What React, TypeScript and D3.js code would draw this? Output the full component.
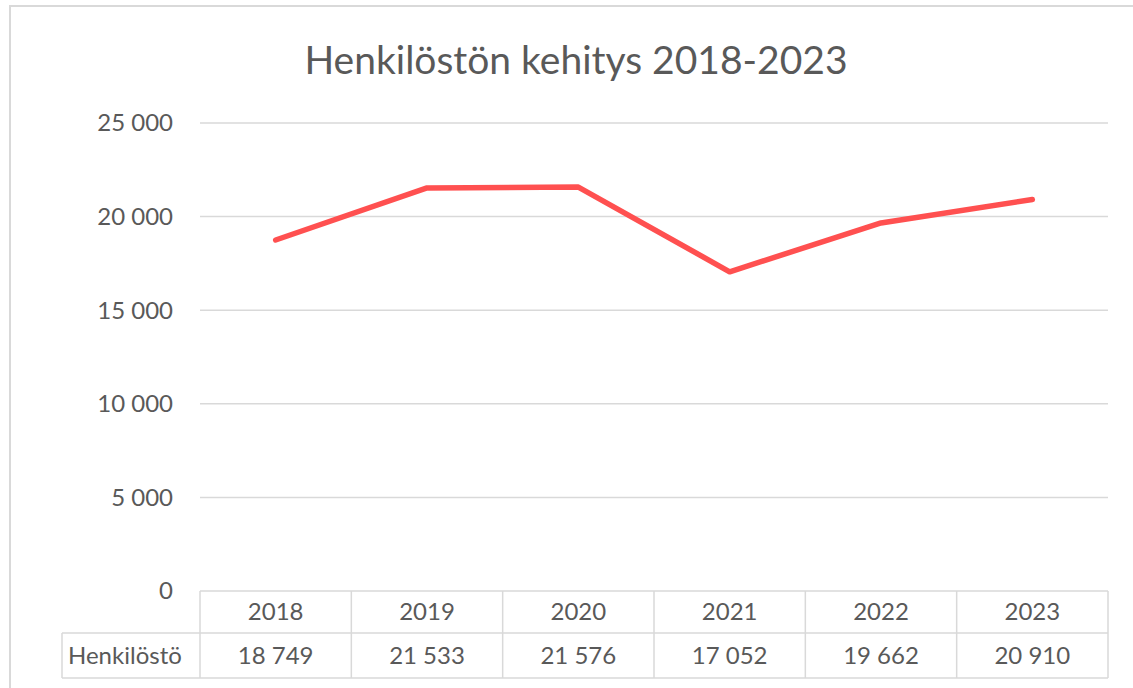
import React from "react";
import * as d3 from "d3";

const years = ["2018", "2019", "2020", "2021", "2022", "2023"];
const henkilosto = [18749, 21533, 21576, 17052, 19662, 20910];
const yTicks = [0, 5000, 10000, 15000, 20000, 25000];
const seriesName = "Henkilöstö";
const title = "Henkilöstön kehitys 2018-2023";

const W = 1133;
const H = 688;
const FONT = "Lato, 'Open Sans', sans-serif";
const TEXT = "#595959";
const GRID = "#d9d9d9";

const locale = d3.formatLocale({
  decimal: ",",
  thousands: "\u00a0",
  grouping: [3],
  currency: ["", "€"],
});
const fmt = locale.format(",d");

export default function App() {
  const plotLeft = 200;
  const plotRight = 1108;
  const y0 = 591;
  const yTop = 123;
  const x = d3.scaleBand<string>().domain(years).range([plotLeft, plotRight]);
  const y = d3.scaleLinear().domain([0, 25000]).range([y0, yTop]);
  const cx = (d: string) => (x(d) as number) + x.bandwidth() / 2;

  const data = years.map((yr, i) => ({ yr, v: henkilosto[i] }));
  const line = d3
    .line<{ yr: string; v: number }>()
    .x((d) => cx(d.yr))
    .y((d) => y(d.v));

  const row1Bottom = 633;
  const row2Bottom = 678;
  const labelLeft = 62;

  return (
    <svg
      width={W}
      height={H}
      style={{ position: "absolute", left: 0, top: 0, background: "#fff" }}
      fontFamily={FONT}
    >
      <rect x={0} y={0} width={W} height={H} fill="#fff" />
      {/* chart frame */}
      <path d={`M10,${H + 5} V6 H${W + 5}`} fill="none" stroke={GRID} strokeWidth={2} />

      <text x={576} y={74} textAnchor="middle" fontSize={39} fill={TEXT}>
        {title}
      </text>

      {/* gridlines */}
      {yTicks.map((t) => (
        <g key={t}>
          {t > 0 && (
            <line x1={plotLeft} x2={plotRight} y1={y(t)} y2={y(t)} stroke={GRID} strokeWidth={1.5} />
          )}
          <text x={173} y={y(t)} dy="0.35em" textAnchor="end" fontSize={24} fill={TEXT}>
            {fmt(t)}
          </text>
        </g>
      ))}

      {/* data table */}
      <g stroke={GRID} strokeWidth={1.5} fill="none">
        <line x1={plotLeft} x2={plotRight} y1={y0} y2={y0} />
        <line x1={labelLeft} x2={plotRight} y1={row1Bottom} y2={row1Bottom} />
        <line x1={labelLeft} x2={plotRight} y1={row2Bottom} y2={row2Bottom} />
        <line x1={labelLeft} x2={labelLeft} y1={row1Bottom} y2={row2Bottom} />
        {years.map((yr) => (
          <line key={yr} x1={x(yr)} x2={x(yr)} y1={y0} y2={row2Bottom} />
        ))}
        <line x1={plotRight} x2={plotRight} y1={y0} y2={row2Bottom} />
      </g>
      {years.map((yr, i) => (
        <g key={yr} fontSize={24} fill={TEXT} textAnchor="middle">
          <text x={cx(yr)} y={(y0 + row1Bottom) / 2} dy="0.35em">
            {yr}
          </text>
          <text x={cx(yr)} y={(row1Bottom + row2Bottom) / 2} dy="0.35em">
            {fmt(henkilosto[i])}
          </text>
        </g>
      ))}
      <text x={68} y={(row1Bottom + row2Bottom) / 2} dy="0.35em" fontSize={24} fill={TEXT}>
        {seriesName}
      </text>

      <path
        d={line(data) || ""}
        fill="none"
        stroke="#ff5050"
        strokeWidth={5.5}
        strokeLinecap="round"
        strokeLinejoin="round"
      />
    </svg>
  );
}
